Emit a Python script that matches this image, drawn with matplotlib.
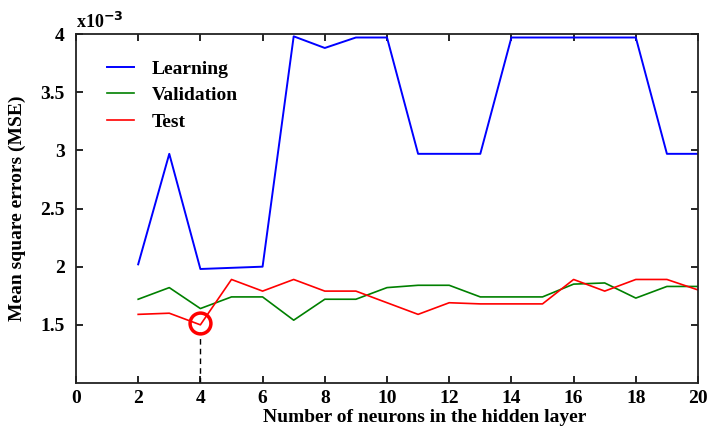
import matplotlib
matplotlib.use("Agg")
import matplotlib.pyplot as plt
from matplotlib.ticker import FuncFormatter

# -----------------------------------------------------------------------------#
# Data (MSE values in units of 1e-3)                                           #
# -----------------------------------------------------------------------------#
neurons = list(range(2, 21))
learning = [2.02, 2.97, 1.98, 1.99, 2.00, 3.98, 3.88, 3.97, 3.97, 2.97,
            2.97, 2.97, 3.97, 3.97, 3.97, 3.97, 3.97, 2.97, 2.97]
validation = [1.72, 1.82, 1.64, 1.74, 1.74, 1.54, 1.72, 1.72, 1.82, 1.84,
              1.84, 1.74, 1.74, 1.74, 1.85, 1.86, 1.73, 1.83, 1.83]
test = [1.59, 1.60, 1.50, 1.89, 1.79, 1.89, 1.79, 1.79, 1.69, 1.59,
        1.69, 1.68, 1.68, 1.68, 1.89, 1.79, 1.89, 1.89, 1.80]
best_n, best_mse = 4, 1.52

plt.rcParams["font.family"] = ["Liberation Serif", "DejaVu Serif"]
plt.rcParams["font.weight"] = "bold"

fig = plt.figure(figsize=(7.08, 4.30), dpi=100)
ax = fig.add_axes([0.1073, 0.1093, 0.8786, 0.8116])

ax.plot(neurons, learning, color="#0000ff", lw=1.4, label="Learning")
ax.plot(neurons, validation, color="#008000", lw=1.2, label="Validation")
ax.plot(neurons, test, color="#ff0000", lw=1.2, label="Test")

# optimum marker + dashed drop line
ax.plot([best_n, best_n], [1.0, best_mse - 0.08], ls=(0, (4, 3)),
        color="black", lw=1.0)
ax.plot(best_n, best_mse, "o", ms=15, mfc="none", mec="#ff0000", mew=2.5)

ax.set_xlim(0, 20)
ax.set_ylim(1.0, 4.0)
ax.set_xticks(range(0, 21, 2))
ax.set_yticks([1.5, 2, 2.5, 3, 3.5, 4])
ax.yaxis.set_major_formatter(FuncFormatter(lambda v, p: f"{v:g}"))
ax.tick_params(direction="in", top=True, right=True, length=5, width=1.2,
               labelsize=14)
ax.tick_params(axis="x", pad=5)
ax.tick_params(axis="y", pad=8)
for lbl in ax.get_xticklabels() + ax.get_yticklabels():
    lbl.set_fontweight("bold")
for sp in ax.spines.values():
    sp.set_linewidth(1.3)
    sp.set_color("#222222")

ax.text(0.0, 1.005, r"x10$^{\mathbf{-3}}$", transform=ax.transAxes,
        fontsize=13, fontweight="bold", va="bottom", ha="left")

ax.set_xlabel("Number of neurons in the hidden layer", fontsize=14,
              fontweight="bold")
ax.xaxis.set_label_coords(0.56, -0.075)
ax.set_ylabel("Mean square errors (MSE)", fontsize=14, fontweight="bold",
              labelpad=10)

ax.legend(loc="upper left", bbox_to_anchor=(0.022, 0.975), frameon=False,
          prop={"weight": "bold", "size": 14},
          handlelength=1.4, handletextpad=0.9, labelspacing=0.45)

fig.savefig("out.png", dpi=100)
